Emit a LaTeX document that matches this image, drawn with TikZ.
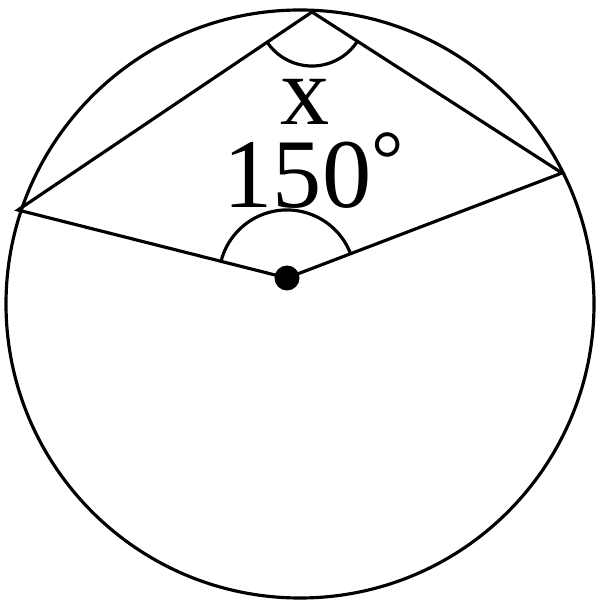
\documentclass[tikz,border=0pt]{standalone}
\usepackage{fontspec}
\setmainfont{Liberation Serif}
\usetikzlibrary{angles}

\begin{document}
\begin{tikzpicture}[x=0.01cm,y=0.01cm,line width=0.9pt]
\useasboundingbox (0,0) rectangle (600,600);
\draw (300,296) circle (294);
\coordinate (O) at (287,322);
\coordinate (A) at (18,390);
\coordinate (B) at (312,588);
\coordinate (C) at (562,427);
\draw (A) -- (O) -- (C) -- (B) -- cycle;
\draw pic[draw,angle radius=0.68cm] {angle=C--O--A};
\draw pic[draw,angle radius=0.54cm] {angle=A--B--C};
\fill (O) circle (12.5);
\node (xlab) at (305,475) [anchor=base,inner sep=0] {\fontsize{28}{30}\selectfont x};
\node (deg) at (222,392) [anchor=base west,inner sep=0] {\fontsize{28}{30}\selectfont 150{\fontsize{23}{24}\selectfont\raisebox{6pt}{°}}};
\end{tikzpicture}
\end{document}
